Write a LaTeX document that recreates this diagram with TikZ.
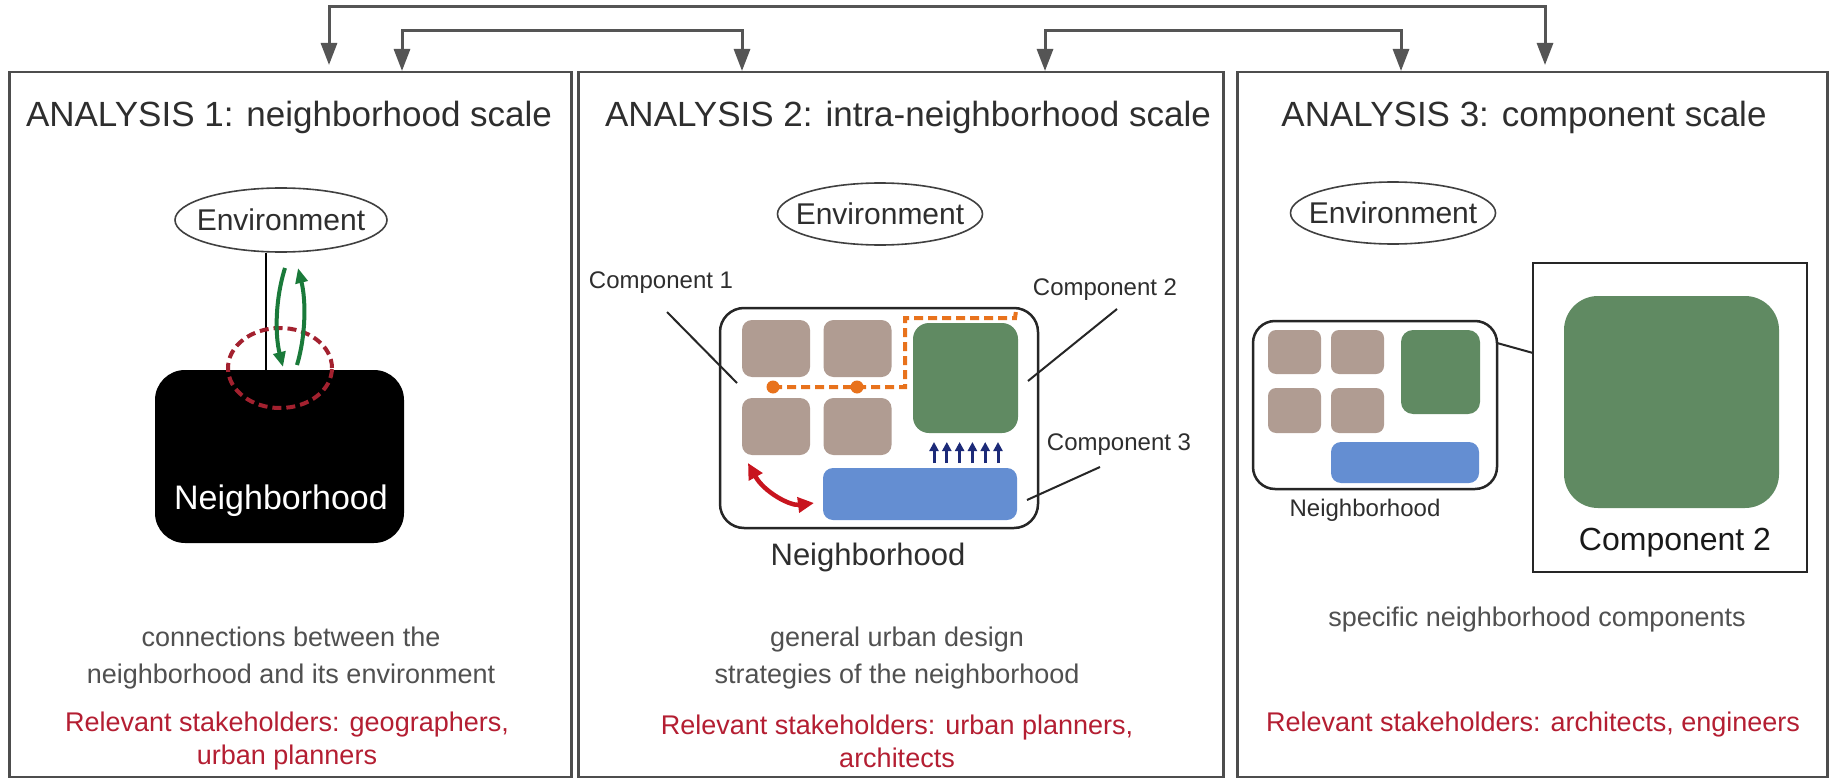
\documentclass[tikz,border=0pt]{standalone}
\usepackage{fontspec}
\setmainfont{Liberation Sans}
\usetikzlibrary{shapes.geometric,arrows.meta,calc}
\definecolor{panelgray}{HTML}{4D4D4D}
\definecolor{conngray}{HTML}{555555}
\definecolor{titlecol}{HTML}{2E2E2E}
\definecolor{bodygray}{HTML}{505050}
\definecolor{stakered}{HTML}{B41E32}
\definecolor{brownbox}{HTML}{B09C92}
\definecolor{greenbox}{HTML}{608A62}
\definecolor{bluebox}{HTML}{648ED2}
\definecolor{pathorange}{HTML}{E8721C}
\definecolor{navyarrow}{HTML}{1C2A78}
\definecolor{ringred}{HTML}{A3212F}
\definecolor{arrred}{HTML}{C8141E}
\definecolor{arrgreen}{HTML}{1A7A3A}
\tikzset{
  panel/.style={draw=panelgray, line width=2.5pt, rectangle, inner sep=0pt, anchor=north west},
  conn/.style={draw=conngray, line width=3pt, {Triangle[length=22pt,width=16pt]}-{Triangle[length=22pt,width=16pt]}},
  titletext/.style={font=\fontsize{35}{40}\selectfont, text=titlecol, inner sep=0pt},
  envshape/.style={ellipse, draw=black!75, line width=1.6pt, inner sep=0pt},
  envtext/.style={font=\fontsize{30}{34}\selectfont, text=titlecol, inner sep=0pt},
  bodytext/.style={font=\fontsize{27}{37}\selectfont, text=bodygray, inner sep=0pt, align=center},
  redtext/.style={font=\fontsize{27}{33}\selectfont, text=stakered, inner sep=0pt, align=center},
  labeltext/.style={font=\fontsize{24}{28}\selectfont, text=titlecol, inner sep=0pt},
  nbframe/.style={rectangle, draw=black!85, line width=2.5pt, inner sep=0pt},
  brown/.style={rectangle, fill=brownbox, rounded corners=10pt, inner sep=0pt},
  greenb/.style={rectangle, fill=greenbox, inner sep=0pt},
  blueb/.style={rectangle, fill=bluebox, rounded corners=10pt, inner sep=0pt},
  leader/.style={draw=black!85, line width=2pt},
}
\begin{document}
\begin{tikzpicture}[x=1pt,y=-1pt]
\useasboundingbox[fill=white] (0,0) rectangle (1835,778);

% panels
\node[panel, minimum width=562pt, minimum height=705pt] (p1) at (8,71) {};
\node[panel, minimum width=645pt, minimum height=705pt] (p2) at (577,71) {};
\node[panel, minimum width=590pt, minimum height=705pt] (p3) at (1236,71) {};

% top connectors
\coordinate (oa) at (329,65);
\coordinate (ob) at (1545,65);
\coordinate (otop) at (329,7);
\draw[conn] (oa) -- (otop) -| (ob);
\coordinate (ia) at (402,71);
\coordinate (ib) at (742,71);
\coordinate (itop) at (402,31);
\draw[conn] (ia) -- (itop) -| (ib);
\coordinate (ja) at (1045,71);
\coordinate (jb) at (1401,71);
\coordinate (jtop) at (1045,31);
\draw[conn] (ja) -- (jtop) -| (jb);

% titles
\node[titletext] (t1) at (289,117) {ANALYSIS 1: neighborhood scale};
\node[titletext] (t2) at (908,117) {ANALYSIS 2: intra-neighborhood scale};
\node[titletext] (t3) at (1524,117) {ANALYSIS 3: component scale};

% ---------- panel 1
\node[envshape, minimum width=212pt, minimum height=64pt] (env1) at (281,220) {};
\node[envtext] (env1t) at (env1) {Environment};
\node[rectangle, fill=black, rounded corners=30pt, minimum width=249pt, minimum height=173pt, inner sep=0pt] (nb1) at (279.5,456.5) {};
\coordinate (vl) at (266,0);
\draw[black, line width=2.5pt] (env1.south -| vl) -- (nb1.north -| vl);
\node[ellipse, draw=ringred, line width=4pt, dash pattern=on 9pt off 5pt, minimum width=104pt, minimum height=80pt, inner sep=0pt] (ring) at (280,368) {};
\node[font=\fontsize{34}{38}\selectfont, text=white, inner sep=0pt] (nb1t) at (281,501) {Neighborhood};
\coordinate (gd1) at (285,268);
\coordinate (gd2) at (283,367);
\coordinate (gu1) at (297,365);
\coordinate (gu2) at (298,268);
\draw[arrgreen, line width=4pt, -{Triangle[length=15pt,width=12pt]}] (gd1) .. controls (275,300) and (275,335) .. (gd2);
\draw[arrgreen, line width=4pt, -{Triangle[length=15pt,width=12pt]}] (gu1) .. controls (306,335) and (306,300) .. (gu2);
\node[bodytext] (d1) at (291,658.5) {connections between the\\neighborhood and its environment};
\node[redtext] (r1) at (287,741.5) {Relevant stakeholders: geographers,\\urban planners};

% ---------- panel 2
\node[envshape, minimum width=205pt, minimum height=62pt] (env2) at (880,214) {};
\node[envtext] (env2t) at (env2) {Environment};
\node[nbframe, rounded corners=24pt, minimum width=318pt, minimum height=220pt] (nb2) at (879,418) {};
\node[brown, minimum width=68pt, minimum height=57pt] (b21) at (776,348.5) {};
\node[brown, minimum width=68pt, minimum height=57pt] (b22) at (857.5,348.5) {};
\node[brown, minimum width=68pt, minimum height=57pt] (b23) at (776,426.5) {};
\node[brown, minimum width=68pt, minimum height=57pt] (b24) at (857.5,426.5) {};
\node[greenb, rounded corners=16pt, minimum width=105pt, minimum height=110pt] (g2) at (965.5,378) {};
\node[blueb, minimum width=194pt, minimum height=52pt] (bl2) at (920,494) {};
% orange path
\coordinate (op1) at (773,387);
\coordinate (op2) at (857,387);
\coordinate (op3) at (905,318);
\coordinate (op4) at (1016,311);
\draw[pathorange, line width=4pt, dash pattern=on 9pt off 5pt] (op1) -- (op2) -- (905,387) -- (op3) -- (1015,318) -- (op4);
\fill[pathorange] (op1) circle (6.5pt);
\fill[pathorange] (op2) circle (6.5pt);
% navy arrows
\foreach \i in {0,...,5} {
  \draw[navyarrow, line width=3pt, -{Triangle[length=9pt,width=9pt]}] (934+12.8*\i,463) -- (934+12.8*\i,442);
}
% red double arrow
\coordinate (ra) at (748,463);
\coordinate (rb) at (814,503);
\draw[arrred, line width=4.5pt, {Triangle[length=16pt,width=15pt]}-{Triangle[length=16pt,width=15pt]}] (ra) .. controls (764,492) and (790,506) .. (rb);
% labels
\node[labeltext] (c1) at (661,283) {Component 1};
\node[labeltext] (c2) at (1105,290) {Component 2};
\node[labeltext] (c3) at (1119,445) {Component 3};
\coordinate (c1e) at (737,383);
\coordinate (c2e) at (1028,381);
\coordinate (c3e) at (1027,500);
\draw[leader] (667,312) -- (c1e);
\draw[leader] (1117,309) -- (c2e);
\draw[leader] (1100,467) -- (c3e);
\node[font=\fontsize{31}{36}\selectfont, text=titlecol, inner sep=0pt] (nb2t) at (868,557) {Neighborhood};
\node[bodytext] (d2) at (897,658.5) {general urban design\\strategies of the neighborhood};
\node[redtext] (r2) at (897,741.5) {Relevant stakeholders: urban planners,\\architects};

% ---------- panel 3
\node[envshape, minimum width=205pt, minimum height=62pt] (env3) at (1393,213) {};
\node[envtext] (env3t) at (env3) {Environment};
\node[nbframe, rounded corners=22pt, minimum width=244pt, minimum height=168pt] (nb3) at (1375,405) {};
\node[brown, rounded corners=8pt, minimum width=53pt, minimum height=44pt] (b31) at (1294.5,352) {};
\node[brown, rounded corners=8pt, minimum width=53pt, minimum height=44pt] (b32) at (1357.5,352) {};
\node[brown, rounded corners=8pt, minimum width=53pt, minimum height=45pt] (b33) at (1294.5,410.5) {};
\node[brown, rounded corners=8pt, minimum width=53pt, minimum height=45pt] (b34) at (1357.5,410.5) {};
\node[greenb, rounded corners=12pt, minimum width=79pt, minimum height=84pt] (g3) at (1440.5,372) {};
\node[blueb, minimum width=148pt, minimum height=41pt] (bl3) at (1405,462.5) {};
\node[labeltext] (nb3t) at (1365,510) {Neighborhood};
\node[rectangle, draw=black!85, line width=2.5pt, minimum width=274pt, minimum height=309pt, inner sep=0pt] (big) at (1670,417.5) {};
\node[greenb, rounded corners=34pt, minimum width=215pt, minimum height=212pt] (gbig) at (1671.5,402) {};
\node[font=\fontsize{32}{36}\selectfont, text=black!90, inner sep=0pt] (gbigt) at (1675,543) {Component 2};
\coordinate (l3a) at (1497,343);
\coordinate (l3b) at (1533,353);
\draw[leader] (l3a) -- (l3b);
\node[bodytext] (d3) at (1537,620) {specific neighborhood components};
\node[redtext] (r3) at (1533,725) {Relevant stakeholders: architects, engineers};
\end{tikzpicture}
\end{document}
